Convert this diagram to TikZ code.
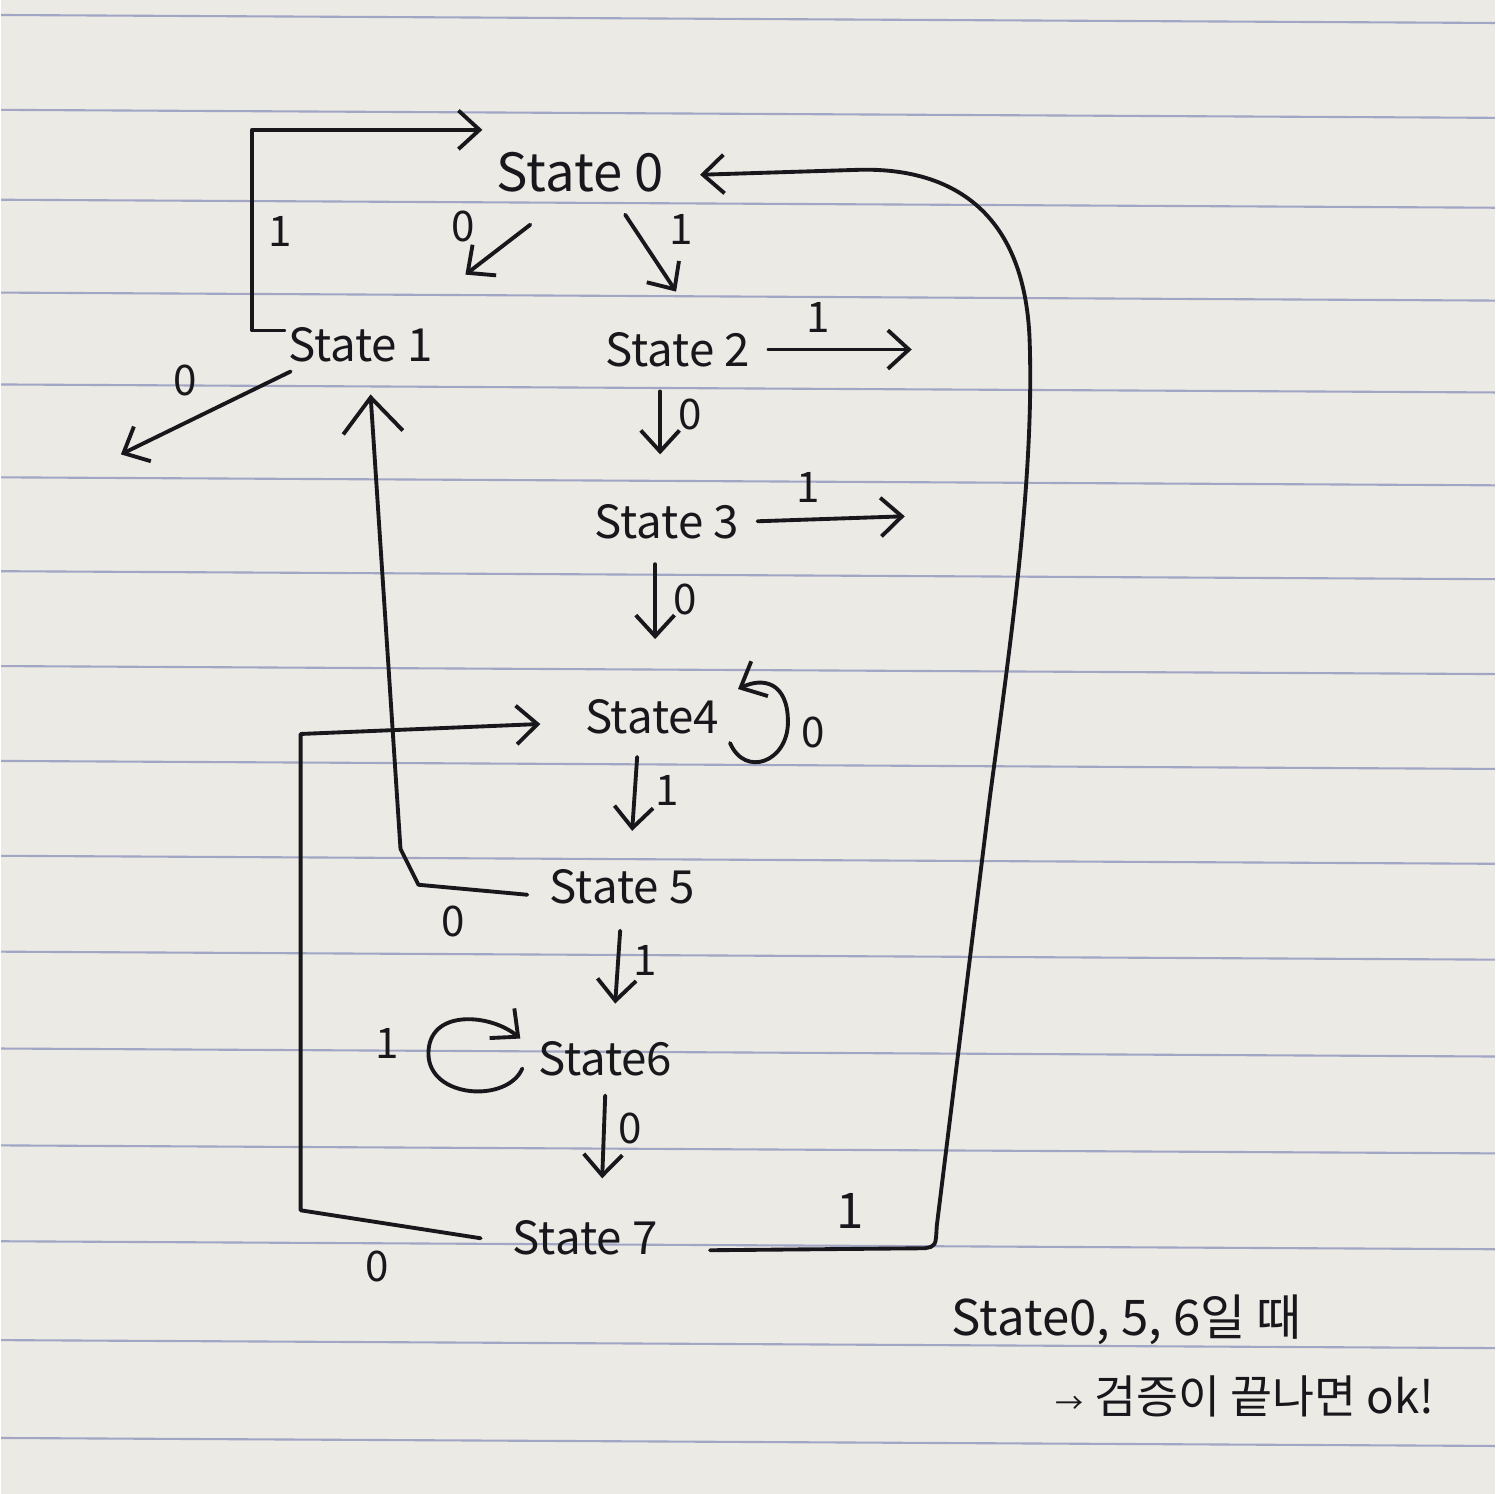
\documentclass[tikz,border=0pt]{standalone}
\usepackage{fontspec}
\setmainfont{Noto Sans CJK KR}
\usepackage{tikz}
\usetikzlibrary{arrows.meta}
\definecolor{paper}{RGB}{236,234,229}
\definecolor{ruleblue}{RGB}{160,166,196}
\definecolor{ink}{RGB}{24,24,28}
\tikzset{
  state/.style={inner sep=1pt, text=ink, font=\fontsize{13}{15}\selectfont},
  cond/.style={inner sep=1pt, text=ink, font=\fontsize{12}{14}\selectfont},
  note/.style={inner sep=1pt, anchor=west, text=ink, font=\fontsize{14}{16}\selectfont},
  trans/.style={-{Straight Barb[length=6pt, width=11pt]}, line width=1.1pt, color=ink,
    line join=round, line cap=round},
  bigtrans/.style={trans, -{Straight Barb[length=10pt, width=17pt]}},
}

\begin{document}
\begin{tikzpicture}[x=0.01cm, y=-0.01cm]
  \fill[paper] (0,0) rectangle (1496,1496);
  \foreach \ry in {15,110,200,293,385,478,572,667,762,857,953,1050,1147,1243,1342,1440}
    \draw[ruleblue, line width=0.6pt] (0,\ry) -- (1496,\ry+8);
  \useasboundingbox (0,0) rectangle (1496,1496);

  \node[state, font=\fontsize{15}{17}\selectfont] (s0) at (580,172) {State 0};
  \node[state] (s1) at (360,345) {State 1};
  \node[state] (s2) at (678,350) {State 2};
  \node[state] (s3) at (667,522) {State 3};
  \node[state] (s4) at (652,718) {State4};
  \node[state] (s5) at (622,888) {State 5};
  \node[state] (s6) at (605,1060) {State6};
  \node[state] (s7) at (585,1240) {State 7};

  \node[note] (note1) at (948,1322) {State0, 5, 6일 때};
  \node[note, font=\fontsize{13}{15}\selectfont] (note2) at (1052,1398) {{\fontsize{8}{9}\selectfont →}\ 검증이 끝나면 ok!};

  \coordinate (out1) at (120,455);
  \coordinate (out2) at (912,350);
  \coordinate (out3) at (905,517);

  \draw[trans] ([yshift=4pt]s1.west) -- ++(-32,0) |- ([shift={(-98,-42)}]s0.center);
  \node[cond] (c10) at (280,232) {1};
  \draw[trans] ([shift={(-50,53)}]s0.center) -- ([shift={(105,-70)}]s1.center);
  \node[cond] (c01) at (463,227) {0};
  \draw[trans] ([shift={(45,43)}]s0.center) -- ([shift={(-2,-58)}]s2.center);
  \node[cond] (c02) at (681,230) {1};

  \draw[trans] ([shift={(-70,27)}]s1.center) -- (out1);
  \node[cond] (c1x) at (184,381) {0};
  \draw[trans] ([xshift=4pt]s2.east) -- (out2);
  \node[cond] (c2x) at (818,318) {1};
  \draw[trans] ([shift={(-18,42)}]s2.center) -- ([shift={(-7,-67)}]s3.center);
  \node[cond] (c23) at (690,415) {0};
  \draw[trans] ([xshift=4pt]s3.east) -- (out3);
  \node[cond] (c3x) at (808,488) {1};
  \draw[trans] ([shift={(-12,43)}]s3.center) -- ([shift={(3,-78)}]s4.center);
  \node[cond] (c34) at (685,600) {0};

  \draw[trans] ([shift={(78,26)}]s4.center) .. controls +(15,35) and +(0,40) .. ([shift={(136,5)}]s4.center)
    .. controls +(0,-40) and +(25,-12) .. ([shift={(86,-28)}]s4.center);
  \node[cond] (c44) at (813,733) {0};
  \draw[trans] ([shift={(-15,40)}]s4.center) -- ([shift={(10,-56)}]s5.center);
  \node[cond] (c45) at (667,792) {1};

  \draw[bigtrans] ([shift={(-95,8)}]s5.center) -- (418,886) -- (400,850) -- ([shift={(10,50)}]s1.center);
  \node[cond] (c51) at (453,923) {0};
  \draw[trans] ([shift={(-2,44)}]s5.center) -- ([shift={(10,-55)}]s6.center);
  \node[cond] (c56) at (645,962) {1};

  \draw[trans] ([shift={(-83,10)}]s6.center) .. controls +(-15,35) and +(0,45) .. (428,1055)
    .. controls +(0,-45) and +(-30,-25) .. ([shift={(-85,-20)}]s6.center);
  \node[cond] (c66) at (387,1045) {1};
  \draw[trans] ([shift={(0,37)}]s6.center) -- ([shift={(17,-60)}]s7.center);
  \node[cond] (c67) at (630,1130) {0};

  \draw[trans] ([xshift=-8pt]s7.west) -- (300,1212) -- (300,735) -- ([shift={(-112,7)}]s4.center);
  \node[cond] (c74) at (377,1268) {0};
  \draw[trans] ([shift={(125,12)}]s7.center) -- (925,1250) .. controls (936,1248) .. (937,1228)
    -- (990,800) .. controls (1010,650) and (1035,480) .. (1030,340)
    .. controls (1025,210) and (950,168) .. (860,170) -- ([shift={(120,3)}]s0.center);
  \node[cond, font=\fontsize{14}{16}\selectfont] (c70) at (850,1213) {1};
\end{tikzpicture}
\end{document}
